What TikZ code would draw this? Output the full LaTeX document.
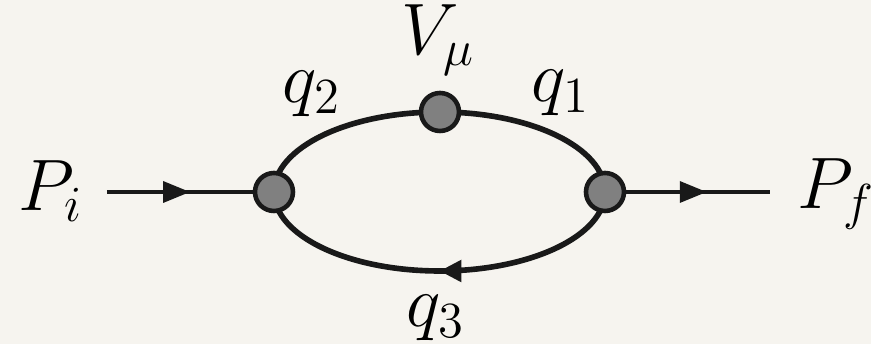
\documentclass[tikz,border=0pt]{standalone}
\usepackage{amsmath,amssymb}
\usepackage{xcolor}
\usepackage{tikz}
\usetikzlibrary{arrows.meta,decorations.markings,backgrounds}
\definecolor{paper}{RGB}{246,244,239}
\definecolor{vertexfill}{RGB}{128,128,128}
\definecolor{ink}{RGB}{25,25,25}

\begin{document}
\begin{tikzpicture}[
    font=\fontsize{20}{24}\selectfont,
    vertex/.style={circle, draw=ink, line width=1.3pt, fill=vertexfill,
      minimum size=0.38cm, inner sep=0pt},
    loopline/.style={ink, line width=1.6pt},
    extline/.style={ink, line width=1pt},
    midarrow/.style={postaction={decorate}, decoration={markings,
      mark=at position #1 with {\arrow{Triangle[length=2.7mm,width=2.1mm]}}}}
  ]
  \useasboundingbox (-4.39,-1.52) rectangle (4.32,1.92);

  % Vertices
  \node[vertex] (l) at (-1.65,0) {};
  \node[vertex] (r) at (1.66,0) {};
  \node[vertex] (t) at (0.01,0.80) {};

  % External legs
  \coordinate (in) at (-3.32,0);
  \coordinate (out) at (3.31,0);
  \draw[extline, midarrow=0.57] (in) -- (l);
  \draw[extline, midarrow=0.56] (r) -- (out);

  % Loop (behind the vertices)
  \begin{pgfonlayer}{background}
    \fill[paper] (-4.39,-1.52) rectangle (4.32,1.92);
    \draw[loopline] (r.center) arc[start angle=0, end angle=180,
      x radius=1.655, y radius=0.80];
    \draw[loopline, postaction={decorate}, decoration={markings,
      mark=at position 0.5 with {\arrow{Triangle[length=2.2mm,width=2.1mm]}}}]
      (r.center) arc[start angle=0, end angle=-180,
      x radius=1.655, y radius=0.79];
  \end{pgfonlayer}

  % Labels
  \node[anchor=base west, inner sep=0pt] (pi) at (-4.21,-0.19) {$P_i$};
  \node[anchor=base west, inner sep=0pt] (pf) at (3.58,-0.17) {$P_f$};
  \node[anchor=base, inner sep=0pt] (vmu) at (-0.01,1.37) {$V_\mu$};
  \node[anchor=base, inner sep=0pt] (q2) at (-1.27,0.89) {$q_2$};
  \node[anchor=base, inner sep=0pt] (q1) at (1.22,0.90) {$q_1$};
  \node[anchor=base, inner sep=0pt] (q3) at (-0.03,-1.35) {$q_3$};
\end{tikzpicture}
\end{document}
